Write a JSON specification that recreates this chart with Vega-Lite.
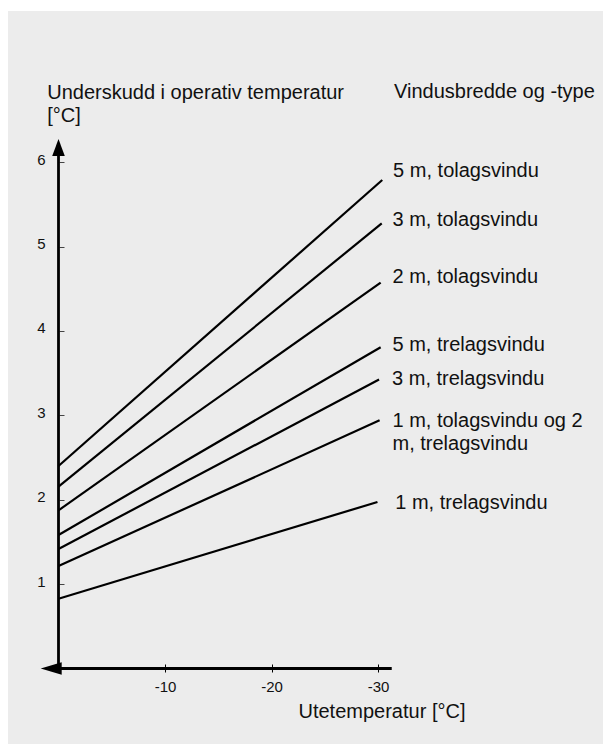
{
  "$schema": "https://vega.github.io/schema/vega-lite/v6.json",
  "width": 595,
  "height": 733,
  "autosize": {"type": "none"},
  "padding": {"left": 8, "top": 11, "right": 0, "bottom": 1},
  "background": "#ffffff",
  "config": {
    "font": "Liberation Sans",
    "view": {"fill": "#ececec", "stroke": null}
  },
  "datasets": {
    "curves": [
      {"series": "5 m, tolagsvindu", "x": 0, "y": 2.399},
      {"series": "5 m, tolagsvindu", "x": -30.4, "y": 5.788},
      {"series": "3 m, tolagsvindu", "x": 0, "y": 2.154},
      {"series": "3 m, tolagsvindu", "x": -30.35, "y": 5.274},
      {"series": "2 m, tolagsvindu", "x": 0, "y": 1.874},
      {"series": "2 m, tolagsvindu", "x": -30.25, "y": 4.572},
      {"series": "5 m, trelagsvindu", "x": 0, "y": 1.581},
      {"series": "5 m, trelagsvindu", "x": -30.25, "y": 3.807},
      {"series": "3 m, trelagsvindu", "x": 0, "y": 1.416},
      {"series": "3 m, trelagsvindu", "x": -30.1, "y": 3.424},
      {"series": "1 m, tolagsvindu og 2 m, trelagsvindu", "x": 0, "y": 1.214},
      {"series": "1 m, tolagsvindu og 2 m, trelagsvindu", "x": -30.15, "y": 2.94},
      {"series": "1 m, trelagsvindu", "x": 0, "y": 0.827},
      {"series": "1 m, trelagsvindu", "x": -29.95, "y": 1.973}
    ],
    "labels": [
      {"label": "Vindusbredde og -type", "x": -31.5, "y": 6.763},
      {"label": "5 m, tolagsvindu", "x": -31.42, "y": 5.827},
      {"label": "3 m, tolagsvindu", "x": -31.36, "y": 5.243},
      {"label": "2 m, tolagsvindu", "x": -31.36, "y": 4.564},
      {"label": "5 m, trelagsvindu", "x": -31.36, "y": 3.765},
      {"label": "3 m, trelagsvindu", "x": -31.32, "y": 3.359},
      {"label": "1 m, tolagsvindu og 2\nm, trelagsvindu", "x": -31.36, "y": 2.865},
      {"label": "1 m, trelagsvindu", "x": -31.62, "y": 1.886}
    ],
    "axislines": [
      {"x": 0, "y": 0, "x2": 0, "y2": 6.1},
      {"x": 0, "y": 0, "x2": -31.29, "y2": 0}
    ],
    "arrows": [
      {"dir": "up", "x": 0, "y": 6.173},
      {"dir": "left", "x": 0.685, "y": 0}
    ]
  },
  "encoding": {
    "x": {
      "field": "x",
      "type": "quantitative",
      "scale": {"domain": [-51.127, 4.742], "reverse": true, "nice": false, "zero": false},
      "axis": {
        "values": [-10, -20, -30],
        "domain": false,
        "grid": false,
        "offset": -80,
        "tickSize": 8,
        "tickWidth": 1,
        "tickColor": "#000000",
        "labelPadding": 19,
        "labelBaseline": "alphabetic",
        "labelFontSize": 15,
        "labelColor": "#111111",
        "labelFlush": false,
        "labelOverlap": false,
        "labelExpr": "replace(datum.label, '−', '-')",
        "title": "Utetemperatur [°C]",
        "titleX": 290,
        "titleY": 53,
        "titleAlign": "left",
        "titleBaseline": "alphabetic",
        "titleFontSize": 20,
        "titleFontWeight": "normal",
        "titleColor": "#111111"
      }
    },
    "y": {
      "field": "y",
      "type": "quantitative",
      "scale": {"domain": [-0.8945, 7.7903], "nice": false, "zero": false},
      "axis": {
        "values": [1, 2, 3, 4, 5, 6],
        "domain": false,
        "grid": false,
        "offset": -51,
        "tickSize": -5,
        "tickWidth": 1,
        "tickColor": "#444444",
        "labelPadding": 19,
        "labelAlign": "right",
        "labelBaseline": "middle",
        "labelOffset": -3,
        "labelFontSize": 15,
        "labelColor": "#111111",
        "labelFlush": false,
        "labelOverlap": false,
        "title": ["Underskudd i operativ temperatur", "[°C]"],
        "titleAngle": 0,
        "titleX": -12.3,
        "titleY": 87.3,
        "titleAlign": "left",
        "titleBaseline": "alphabetic",
        "titleLineHeight": 23.5,
        "titleFontSize": 20,
        "titleFontWeight": "normal",
        "titleColor": "#111111"
      }
    }
  },
  "layer": [
    {
      "data": {"name": "axislines"},
      "mark": {"type": "rule", "color": "#000000", "strokeWidth": 2.8},
      "encoding": {
        "x2": {"field": "x2"},
        "y2": {"field": "y2"}
      }
    },
    {
      "data": {"name": "curves"},
      "mark": {"type": "line", "color": "#000000", "strokeWidth": 2.2},
      "encoding": {
        "detail": {"field": "series", "type": "nominal"}
      }
    },
    {
      "data": {"name": "arrows"},
      "transform": [{"filter": "datum.dir === 'up'"}],
      "mark": {"type": "point", "shape": "M0,-1L0.74,1L-0.74,1Z", "size": 289, "filled": true, "color": "#000000", "opacity": 1},
      "encoding": {}
    },
    {
      "data": {"name": "arrows"},
      "transform": [{"filter": "datum.dir === 'left'"}],
      "mark": {"type": "point", "shape": "M-1,0L1,-0.6L1,0.6Z", "size": 441, "filled": true, "color": "#000000", "opacity": 1},
      "encoding": {}
    },
    {
      "data": {"name": "labels"},
      "mark": {"type": "text", "align": "left", "baseline": "alphabetic", "fontSize": 20, "lineBreak": "\n", "lineHeight": 23.5, "color": "#111111"},
      "encoding": {
        "text": {"field": "label", "type": "nominal"}
      }
    }
  ]
}
